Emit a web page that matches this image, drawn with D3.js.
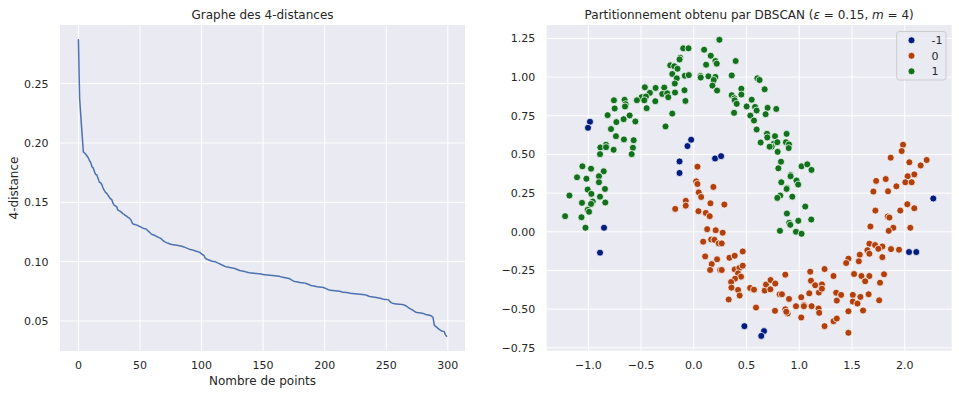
<!DOCTYPE html>
<html><head><meta charset="utf-8">
<script src="https://cdn.jsdelivr.net/npm/d3@7"></script>
<style>
body{margin:0;background:#fff}
svg{display:block}
text{font-family:"DejaVu Sans",sans-serif;fill:#262626}
</style>
</head><body>
<svg id="c" width="959" height="395"></svg>
<script>
// ---- Left chart: sorted 4-distances (300 points) ----
const kdist = [
0.2869,0.2375,0.2220,0.2070,0.1925,0.1915,0.1905,0.1890,0.1875,0.1850,
0.1835,0.1800,0.1790,0.1760,0.1735,0.1730,0.1700,0.1670,0.1665,0.1650,
0.1620,0.1600,0.1585,0.1575,0.1560,0.1545,0.1530,0.1525,0.1495,0.1475,
0.1470,0.1465,0.1435,0.1430,0.1425,0.1415,0.1405,0.1400,0.1390,0.1385,
0.1375,0.1370,0.1360,0.1345,0.1320,0.1315,0.1313,0.1310,0.1305,0.1300,
0.1295,0.1290,0.1285,0.1280,0.1278,0.1275,0.1265,0.1255,0.1245,0.1235,
0.1228,0.1225,0.1222,0.1215,0.1210,0.1205,0.1200,0.1195,0.1185,0.1175,
0.1168,0.1162,0.1158,0.1155,0.1150,0.1147,0.1145,0.1143,0.1141,0.1140,
0.1138,0.1136,0.1134,0.1132,0.1130,0.1126,0.1122,0.1118,0.1114,0.1110,
0.1105,0.1102,0.1100,0.1097,0.1094,0.1090,0.1087,0.1084,0.1080,0.1075,
0.1065,0.1058,0.1052,0.1030,0.1022,0.1018,0.1014,0.1010,0.1006,0.1003,
0.1001,0.0999,0.0996,0.0990,0.0985,0.0980,0.0975,0.0970,0.0965,0.0960,
0.0957,0.0955,0.0953,0.0950,0.0948,0.0946,0.0944,0.0942,0.0938,0.0934,
0.0930,0.0926,0.0923,0.0921,0.0919,0.0917,0.0914,0.0911,0.0908,0.0906,
0.0905,0.0904,0.0903,0.0902,0.0901,0.0900,0.0899,0.0898,0.0896,0.0894,
0.0892,0.0890,0.0889,0.0888,0.0887,0.0886,0.0885,0.0884,0.0883,0.0882,
0.0881,0.0880,0.0879,0.0877,0.0874,0.0871,0.0869,0.0867,0.0865,0.0863,
0.0861,0.0858,0.0853,0.0846,0.0840,0.0835,0.0832,0.0830,0.0828,0.0826,
0.0824,0.0823,0.0822,0.0821,0.0819,0.0816,0.0812,0.0808,0.0803,0.0799,
0.0796,0.0794,0.0792,0.0790,0.0788,0.0787,0.0786,0.0785,0.0784,0.0782,
0.0778,0.0773,0.0768,0.0763,0.0760,0.0759,0.0757,0.0756,0.0755,0.0754,
0.0753,0.0752,0.0750,0.0748,0.0745,0.0743,0.0742,0.0741,0.0740,0.0738,
0.0735,0.0733,0.0732,0.0731,0.0730,0.0729,0.0728,0.0727,0.0726,0.0725,
0.0724,0.0723,0.0722,0.0720,0.0717,0.0713,0.0709,0.0706,0.0704,0.0702,
0.0700,0.0699,0.0698,0.0696,0.0694,0.0692,0.0689,0.0686,0.0684,0.0682,
0.0681,0.0680,0.0677,0.0665,0.0655,0.0650,0.0648,0.0646,0.0644,0.0643,
0.0642,0.0641,0.0640,0.0638,0.0636,0.0633,0.0628,0.0620,0.0612,0.0606,
0.0600,0.0595,0.0588,0.0580,0.0574,0.0572,0.0570,0.0569,0.0568,0.0566,
0.0564,0.0560,0.0555,0.0553,0.0551,0.0549,0.0546,0.0540,0.0530,0.0465,
0.0455,0.0448,0.0438,0.0430,0.0422,0.0416,0.0413,0.0412,0.0385,0.0372
];
const xTicksL = [0,50,100,150,200,250,300];
const yTicksL = [0.05,0.10,0.15,0.20,0.25];

// ---- Right chart: DBSCAN clusters ----
const clusterLabels = ["-1","0","1"];
const clusterColors = ["#001C7F","#B1400D","#12711C"];
const ptsNoise = [
[-0.984,0.711],[-1.003,0.672],[-0.025,0.595],[-0.060,0.554],[-0.135,0.455],[-0.135,0.380],
[0.202,0.474],[0.259,0.489],[-0.851,0.026],[-0.889,-0.135],[0.480,-0.610],[0.666,-0.642],
[0.640,-0.673],[2.271,0.215],[2.041,-0.131],[2.110,-0.131]
];
const ptsC0 = [
[0.035,0.421],[0.023,0.326],[0.035,0.309],[0.186,0.290],[-0.176,0.148],[-0.076,0.200],[-0.076,0.169],
[0.047,0.255],[0.070,0.225],[0.158,0.184],[0.290,0.176],[0.044,0.133],[0.114,0.122],[0.151,0.101],
[0.127,0.017],[0.208,0.010],[0.274,-0.006],[0.089,-0.064],[0.165,-0.050],[0.196,-0.052],[0.237,-0.075],
[0.265,-0.075],[0.108,-0.159],[0.221,-0.178],[0.170,-0.209],[0.155,-0.247],[0.250,-0.247],[0.265,-0.247],
[0.338,-0.168],[0.388,-0.155],[0.464,-0.127],[0.388,-0.243],[0.432,-0.234],[0.464,-0.219],[0.420,-0.269],
[0.448,-0.290],[0.391,-0.303],[0.354,-0.325],[0.357,-0.361],[0.420,-0.376],[0.435,-0.412],[0.331,-0.438],
[0.534,-0.363],[0.571,-0.374],[0.590,-0.490],[0.672,-0.380],[0.685,-0.341],[0.728,-0.312],[0.773,-0.335],
[0.726,-0.372],[0.868,-0.277],[0.814,-0.404],[0.836,-0.404],[0.903,-0.434],[1.019,-0.423],[1.095,-0.398],
[1.104,-0.258],[1.111,-0.316],[1.151,-0.346],[1.186,-0.393],[1.215,-0.340],[1.215,-0.368],[0.770,-0.511],
[0.868,-0.501],[0.890,-0.528],[0.877,-0.517],[0.969,-0.481],[1.044,-0.473],[1.044,-0.481],[1.117,-0.481],
[1.019,-0.554],[1.183,-0.496],[1.189,-0.524],
[1.984,0.563],[1.971,0.522],[1.867,0.479],[2.208,0.464],[2.044,0.449],[2.151,0.429],[2.091,0.371],
[2.028,0.359],[1.729,0.329],[1.820,0.341],[2.006,0.320],[2.066,0.320],[1.921,0.294],
[1.703,0.260],[1.842,0.262],[2.025,0.178],[2.091,0.152],[1.722,0.137],[1.958,0.137],[1.839,0.099],
[1.855,0.092],[1.675,0.034],[1.892,0.026],[2.053,0.026],[1.848,0.006],[1.665,-0.077],[1.719,-0.086],
[1.788,-0.095],[1.750,-0.110],[1.646,-0.119],[1.665,-0.142],[1.870,-0.112],[1.946,-0.116],[1.788,-0.164],
[1.574,-0.148],[1.466,-0.174],[1.445,-0.202],[1.565,-0.191],[1.240,-0.241],[1.520,-0.273],[1.590,-0.286],
[1.665,-0.286],[1.804,-0.275],[1.325,-0.286],[1.625,-0.320],[1.766,-0.329],[1.350,-0.394],[1.397,-0.408],
[1.508,-0.408],[1.580,-0.421],[1.658,-0.404],[1.356,-0.445],[1.508,-0.451],[1.552,-0.464],[1.758,-0.443],
[1.466,-0.514],[1.605,-0.509],[1.325,-0.578],[1.356,-0.561],[1.240,-0.610],[1.466,-0.653]
];
const ptsC1 = [
[-0.100,1.186],[-0.129,1.125],[-0.135,1.114],[-0.223,1.076],[-0.185,1.070],[-0.154,1.054],[-0.204,1.020],
[-0.085,1.009],[-0.161,0.992],[-0.180,0.958],[-0.088,0.915],[-0.178,0.900],[-0.079,0.846],[-0.464,0.934],
[-0.362,0.930],[-0.280,0.932],[-0.416,0.898],[-0.299,0.891],[-0.252,0.895],[-0.242,0.870],[-0.495,0.870],
[-0.454,0.874],[-0.539,0.850],[-0.469,0.850],[-0.365,0.844],[-0.447,0.799],[-0.757,0.850],[-0.656,0.853],
[-0.646,0.825],[-0.652,0.810],[-0.750,0.797],[-0.817,0.754],[-0.608,0.752],[-0.665,0.728],[-0.554,0.713],
[-0.734,0.709],[-0.204,0.764],[-0.268,0.681],[-0.785,0.664],[-0.738,0.618],[-0.662,0.597],[-0.570,0.592],
[-0.832,0.563],[-0.886,0.545],[-0.832,0.547],[-0.760,0.530],[-0.577,0.543],[-0.889,0.502],[-0.589,0.502],
[-1.056,0.423],[-0.974,0.408],[-0.854,0.391],[-1.107,0.352],[-1.018,0.343],[-0.899,0.359],[-0.899,0.320],
[0.243,1.241],[-0.050,1.186],[0.098,1.177],[0.161,1.138],[0.205,1.104],[0.218,1.087],[0.117,1.080],
[0.397,1.104],[-0.047,1.013],[0.063,1.007],[0.066,0.997],[0.139,1.005],[0.205,1.001],[0.189,0.981],
[0.177,0.945],[0.221,0.913],[0.360,1.011],[0.603,0.992],[0.624,0.981],[0.672,0.921],[0.451,0.925],
[0.451,0.887],[0.360,0.883],[0.385,0.863],[0.388,0.850],[0.407,0.827],[0.549,0.854],[0.501,0.810],
[0.581,0.807],[0.596,0.784],[0.700,0.801],[0.782,0.794],[0.681,0.760],[0.536,0.751],[0.571,0.719],
[0.382,0.769],[0.596,0.661],[0.694,0.633],[0.770,0.618],[0.880,0.633],[0.697,0.610],[0.634,0.577],
[0.757,0.569],[0.792,0.579],[0.738,0.550],[0.719,0.550],[0.874,0.579],[0.903,0.565],[0.900,0.541],
[0.795,0.517],[0.827,0.453],[0.802,0.410],[1.022,0.423],[1.076,0.436],[1.116,0.400],[0.918,0.367],
[0.918,0.359],[0.830,0.320],[0.974,0.331],[0.990,0.305],[0.883,0.283],
[-1.006,0.273],[-0.842,0.277],[-0.971,0.245],[-1.179,0.234],[-0.889,0.227],[-1.060,0.187],[-0.958,0.195],
[-0.974,0.180],[-0.839,0.189],[-1.006,0.142],[-0.993,0.129],[-1.220,0.101],[-1.065,0.094],[-1.027,0.026],
[0.880,0.277],[0.820,0.234],[0.792,0.219],[0.934,0.227],[1.057,0.163],[0.883,0.118],[0.991,0.071],
[1.114,0.079],[0.905,0.058],[0.915,0.045],[0.817,0.006],[0.969,0.000],[1.022,-0.013]
];
const xTicksR = [-1.0,-0.5,0.0,0.5,1.0,1.5,2.0];
const yTicksR = [-0.75,-0.50,-0.25,0.00,0.25,0.50,0.75,1.00,1.25];

// ---- drawing ----
const svg = d3.select("#c");
const BG = "#EAEAF2";

function padded(lo, hi){ const m=(hi-lo)*0.05; return [lo-m, hi+m]; }

function frame(box, xs, ys, xt, yt, xfmt, yfmt){
  const g = svg.append("g");
  g.append("rect").attr("x",box.x0).attr("y",box.y0)
    .attr("width",box.x1-box.x0).attr("height",box.y1-box.y0).attr("fill",BG);
  g.selectAll("line.gx").data(xt).join("line")
    .attr("x1",d=>xs(d)).attr("x2",d=>xs(d)).attr("y1",box.y0).attr("y2",box.y1)
    .attr("stroke","#fff").attr("stroke-width",1);
  g.selectAll("line.gy").data(yt).join("line").attr("class","gy")
    .attr("y1",d=>ys(d)).attr("y2",d=>ys(d)).attr("x1",box.x0).attr("x2",box.x1)
    .attr("stroke","#fff").attr("stroke-width",1);
  g.selectAll("text.tx").data(xt).join("text").attr("class","tx")
    .attr("x",d=>xs(d)).attr("y",box.y1+18).attr("text-anchor","middle")
    .attr("font-size",11).text(xfmt);
  g.selectAll("text.ty").data(yt).join("text").attr("class","ty")
    .attr("x",box.x0-11.5).attr("y",d=>ys(d)+4).attr("text-anchor","end")
    .attr("font-size",11).text(yfmt);
  return g;
}

// Left
const L = {x0:60, x1:465, y0:25, y1:351};
const xL = d3.scaleLinear().domain(padded(0, kdist.length-1)).range([L.x0, L.x1]);
const yL = d3.scaleLinear().domain(padded(d3.min(kdist), d3.max(kdist))).range([L.y1, L.y0]);
frame(L, xL, yL, xTicksL, yTicksL, d3.format("d"), d3.format(".2f"));
svg.append("path").datum(kdist)
  .attr("d", d3.line().x((d,i)=>xL(i)).y(d=>yL(d)))
  .attr("fill","none").attr("stroke","#4C72B0").attr("stroke-width",1.5)
  .attr("stroke-linejoin","round").attr("stroke-linecap","round");
svg.append("text").attr("x",(L.x0+L.x1)/2).attr("y",19).attr("text-anchor","middle")
  .attr("font-size",12).text("Graphe des 4-distances");
svg.append("text").attr("x",(L.x0+L.x1)/2).attr("y",385).attr("text-anchor","middle")
  .attr("font-size",12).text("Nombre de points");
svg.append("text").attr("transform",`translate(17.5,${(L.y0+L.y1)/2}) rotate(-90)`)
  .attr("text-anchor","middle").attr("font-size",12).text("4-distance");

// Right
const R = {x0:546.7, x1:951.7, y0:25, y1:350.7};
const groups = [ptsNoise, ptsC0, ptsC1];
const all = groups.flat();
const xR = d3.scaleLinear().domain(padded(d3.min(all,d=>d[0]), d3.max(all,d=>d[0]))).range([R.x0, R.x1]);
const yR = d3.scaleLinear().domain(padded(d3.min(all,d=>d[1]), d3.max(all,d=>d[1]))).range([R.y1, R.y0]);
frame(R, xR, yR, xTicksR, yTicksR, d3.format(".1f"), d3.format(".2f"));
groups.forEach((pts, gi)=>{
  svg.append("g").selectAll("circle").data(pts).join("circle")
    .attr("cx",d=>xR(d[0])).attr("cy",d=>yR(d[1])).attr("r",3.5)
    .attr("fill",clusterColors[gi]).attr("stroke","#fff").attr("stroke-width",0.75);
});
const t = svg.append("text").attr("x",(R.x0+R.x1)/2).attr("y",19).attr("text-anchor","middle").attr("font-size",12);
t.append("tspan").text("Partitionnement obtenu par DBSCAN (");
t.append("tspan").attr("font-style","italic").text("ε");
t.append("tspan").text(" = 0.15, ");
t.append("tspan").attr("font-style","italic").text("m");
t.append("tspan").text(" = 4)");

// Legend
const lg = svg.append("g");
lg.append("rect").attr("x",896.7).attr("y",31.5).attr("width",49.3).attr("height",48.5)
  .attr("rx",2.5).attr("fill",BG).attr("fill-opacity",0.8).attr("stroke","#cccccc").attr("stroke-width",1);
clusterLabels.forEach((lab,i)=>{
  const y = 40.3 + i*15.5;
  lg.append("circle").attr("cx",911.5).attr("cy",y).attr("r",3.5)
    .attr("fill",clusterColors[i]).attr("stroke","#fff").attr("stroke-width",0.75);
  lg.append("text").attr("x",931.5).attr("y",y+4).attr("font-size",11).text(lab);
});
</script>
</body></html>
